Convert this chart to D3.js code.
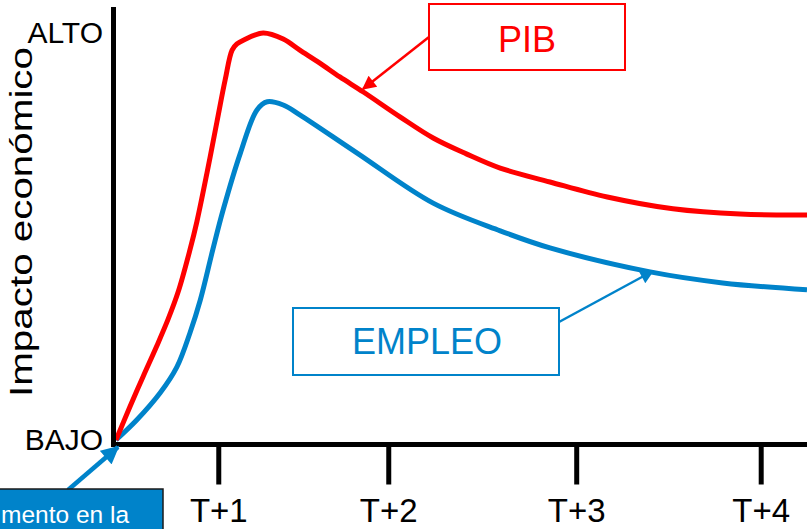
<!DOCTYPE html>
<html lang="es">
<head>
<meta charset="utf-8">
<script src="https://cdn.jsdelivr.net/npm/d3@7"></script>
<style>
  html, body { margin: 0; padding: 0; background: #fff; }
  svg { display: block; font-family: "Liberation Sans", Arial, sans-serif; }
</style>
</head>
<body>
<svg id="chart" width="807" height="529"></svg>
<script>
// Time axis ticks (position on a 0–100 time scale) and their labels
const tickLabels = ["T+1", "T+2", "T+3", "T+4"];
const tickPositions = [14.8, 39.4, 66.6, 93.3];

// Vertical scale labels: 0 = BAJO, 100 = ALTO
const levelLabels = ["BAJO", "ALTO"];
const levelValues = [0, 100];

// PIB curve (time, impact)
const pibTime   = [0, 2.0, 3.9, 5.9, 7.5, 9.0, 10.7, 11.7, 13.2, 14.6, 15.8, 16.8, 17.5, 18.5, 21.3, 24.2, 26.6, 29.5, 32.4, 35.8, 41.1, 45.9, 50.7, 55.6, 62.8, 71.1, 80.6, 90.3, 100];
const pibImpact = [0, 8.1, 15.5, 23.1, 29.5, 36.4, 46.7, 53.6, 65.9, 78.1, 88.5, 95.8, 97.3, 98.3, 100, 98.5, 95.8, 92.6, 89.2, 85.5, 79.4, 74.2, 70.3, 66.8, 63.4, 59.7, 56.8, 55.5, 55.3];

// EMPLEO curve (time, impact)
const empleoTime   = [0, 3.0, 6.4, 8.8, 10.7, 12.2, 14.0, 15.5, 18.0, 20.4, 21.9, 24.2, 26.6, 34.9, 45.9, 55.6, 62.8, 77.3, 87.8, 100];
const empleoImpact = [0, 4.9, 11.6, 17.9, 26.3, 34.4, 46.7, 56.5, 70.5, 81.1, 83.1, 82.3, 79.9, 70.5, 58.2, 51.4, 47.2, 41.3, 38.6, 36.9];

const RED = "#FF0000";
const BLUE = "#0083CA";
const FONT = "'Liberation Sans', Arial, sans-serif";

const svg = d3.select("#chart");
const W = 807;
const x0 = 116, x1 = 807, yBase = 440, yTop = 33;

const x = d3.scaleLinear().domain([0, 100]).range([x0, x1]);
const y = d3.scaleLinear().domain([0, 100]).range([yBase, yTop]);

// Arrow markers
const defs = svg.append("defs");
function marker(id, color, w, h) {
  defs.append("marker")
    .attr("id", id)
    .attr("viewBox", "0 0 10 10")
    .attr("refX", 9).attr("refY", 5)
    .attr("markerUnits", "userSpaceOnUse")
    .attr("markerWidth", w).attr("markerHeight", h)
    .attr("orient", "auto")
    .append("path").attr("d", "M0,0 L10,5 L0,10 Z").attr("fill", color);
}
marker("arrRed", RED, 16, 14);
marker("arrBlue", BLUE, 16, 14);
marker("arrBlueBig", BLUE, 19, 18);

// Curves
const line = d3.line()
  .x(d => x(d[0]))
  .y(d => y(d[1]))
  .curve(d3.curveCatmullRom.alpha(0.5));

const pib = d3.zip(pibTime, pibImpact);
const empleo = d3.zip(empleoTime, empleoImpact);

svg.append("path").datum(empleo)
  .attr("d", line).attr("fill", "none")
  .attr("stroke", BLUE).attr("stroke-width", 5).attr("stroke-linejoin", "round");
svg.append("path").datum(pib)
  .attr("d", line).attr("fill", "none")
  .attr("stroke", RED).attr("stroke-width", 5).attr("stroke-linejoin", "round");

// Horizontal time axis with long tick marks
const xAxis = d3.axisBottom(x)
  .tickValues(tickPositions)
  .tickFormat((d, i) => tickLabels[i])
  .tickSizeInner(40).tickSizeOuter(0).tickPadding(12);

const gx = svg.append("g").attr("transform", `translate(0,${yBase + 4.5})`).call(xAxis);
gx.select(".domain").remove();
gx.selectAll(".tick line").attr("stroke", "#000").attr("stroke-width", 5);
gx.selectAll(".tick text")
  .attr("fill", "#000").attr("font-size", 33)
  .attr("font-family", FONT)
  .attr("dy", "0.71em").attr("y", 54);

svg.append("line")
  .attr("x1", x0 - 5).attr("x2", W)
  .attr("y1", yBase + 4.5).attr("y2", yBase + 4.5)
  .attr("stroke", "#000").attr("stroke-width", 5);

// Vertical axis line with ALTO / BAJO labels
svg.append("line")
  .attr("x1", x0 - 2.5).attr("x2", x0 - 2.5)
  .attr("y1", 7).attr("y2", yBase + 7)
  .attr("stroke", "#000").attr("stroke-width", 5);

const yAxis = d3.axisLeft(y)
  .tickValues(levelValues)
  .tickFormat((d, i) => levelLabels[i])
  .tickSize(0).tickPadding(13);
const gy = svg.append("g").attr("transform", `translate(${x0},0)`).call(yAxis);
gy.select(".domain").remove();
gy.selectAll(".tick text")
  .attr("fill", "#000").attr("font-size", 30)
  .attr("font-family", FONT);

// Axis title
svg.append("text")
  .attr("transform", "translate(32,222) rotate(-90)")
  .attr("text-anchor", "middle")
  .attr("font-size", 31)
  .attr("textLength", 350).attr("lengthAdjust", "spacingAndGlyphs")
  .attr("fill", "#000")
  .text("Impacto económico");

// PIB callout
svg.append("rect").attr("x", 429).attr("y", 4).attr("width", 196).attr("height", 66)
  .attr("fill", "#fff").attr("stroke", RED).attr("stroke-width", 2);
svg.append("text").attr("x", 527).attr("y", 52).attr("text-anchor", "middle")
  .attr("font-size", 36).attr("fill", RED).text("PIB");
svg.append("line").attr("x1", 429).attr("y1", 37).attr("x2", 363).attr("y2", 89)
  .attr("stroke", RED).attr("stroke-width", 2.5).attr("marker-end", "url(#arrRed)");

// EMPLEO callout
svg.append("rect").attr("x", 293).attr("y", 308).attr("width", 266).attr("height", 67)
  .attr("fill", "#fff").attr("stroke", BLUE).attr("stroke-width", 2);
svg.append("text").attr("x", 427).attr("y", 354).attr("text-anchor", "middle")
  .attr("font-size", 36).attr("fill", BLUE).text("EMPLEO");
svg.append("line").attr("x1", 559).attr("y1", 322).attr("x2", 653).attr("y2", 271)
  .attr("stroke", BLUE).attr("stroke-width", 2.5).attr("marker-end", "url(#arrBlue)");

// Starting-point callout
svg.append("line").attr("x1", 68).attr("y1", 490).attr("x2", 118).attr("y2", 447)
  .attr("stroke", BLUE).attr("stroke-width", 4.5).attr("marker-end", "url(#arrBlueBig)");
svg.append("rect").attr("x", -5).attr("y", 489).attr("width", 168).attr("height", 50)
  .attr("fill", BLUE).attr("stroke", "#1a1a1a").attr("stroke-width", 1.5);
svg.append("text").attr("x", 1).attr("y", 523)
  .attr("font-size", 24.5).attr("fill", "#fff").text("mento en la");
</script>
</body>
</html>
